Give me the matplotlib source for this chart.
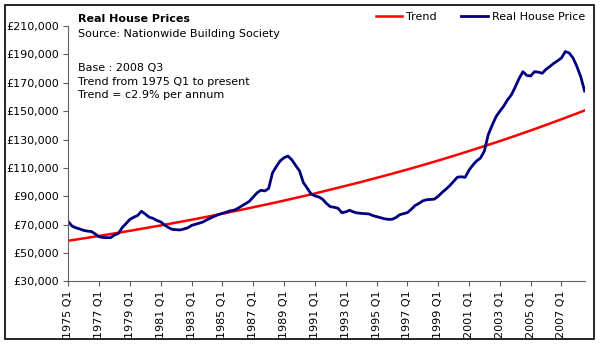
import numpy as np
import matplotlib
matplotlib.use('Agg')
import matplotlib.pyplot as plt
from matplotlib.patches import Rectangle
from matplotlib.ticker import FuncFormatter

# Real house price, quarterly from 1975 Q1 to 2008 Q3 (thousands of pounds)
price = [72.1, 69.0, 67.8, 67.0, 66.0, 65.5, 65.2, 63.5,
         61.5, 61.0, 60.9, 60.9, 62.8, 63.8, 68.0, 70.8,
         73.8, 75.3, 76.5, 79.5, 77.5, 75.3, 74.5, 73.0,
         72.0, 69.8, 68.0, 66.7, 66.5, 66.3, 67.0, 67.8,
         69.5, 70.3, 71.1, 72.0, 73.5, 74.8, 76.0, 77.2,
         78.0, 78.8, 79.8, 80.2, 81.5, 83.2, 84.8, 86.5,
         89.5, 92.5, 94.3, 93.8, 95.5, 106.5, 111.0, 115.0,
         117.2, 118.4, 115.8, 111.8, 108.0, 99.8, 95.8, 91.8,
         90.3, 89.6, 88.0, 85.0, 82.7, 82.3, 81.6, 78.5,
         79.0, 80.2, 79.0, 78.3, 78.0, 77.8, 77.6, 76.5,
         75.7, 75.0, 74.2, 73.8, 73.8, 75.0, 77.0, 77.8,
         78.5, 80.8, 83.5, 85.0, 86.8, 87.6, 87.8, 88.0,
         90.0, 92.7, 95.0, 97.5, 100.5, 103.5, 103.8, 103.4,
         108.4, 112.0, 115.0, 117.0, 122.0, 133.5, 140.0, 146.0,
         150.0, 153.5, 158.0, 161.5, 167.0, 173.0, 177.8, 175.2,
         174.8, 177.8, 177.5, 176.7, 179.5, 181.5, 183.7, 185.5,
         187.5, 192.0, 191.0, 187.5, 181.5, 174.3, 164.2]

# Trend line, read at Q1 of each year plus the last quarter
trend_q = [0, 4, 8, 12, 16, 20, 24, 28, 32, 36, 40, 44, 48, 52, 56, 60, 64,
           68, 72, 76, 80, 84, 88, 92, 96, 100, 104, 108, 112, 116, 120,
           124, 128, 132, 134]
trend = [58.7, 60.4, 62.1, 63.9, 65.7, 67.6, 69.5, 71.5, 73.5, 75.6, 77.8,
         80.0, 82.3, 84.6, 87.0, 89.5, 92.0, 94.7, 97.4, 100.1, 103.0,
         105.9, 108.9, 112.0, 115.2, 118.5, 121.9, 125.4, 128.9, 132.6,
         136.4, 140.3, 144.3, 148.4, 150.5]

years = list(range(1975, 2008, 2))
tick_labels = ['%d Q1' % y for y in years]
y_ticks = list(range(30000, 210001, 20000))

fig = plt.figure(figsize=(6, 3.44), dpi=100)
ax = fig.add_axes([0.1138, 0.1817, 0.8605, 0.7427])

q = np.arange(len(price))
ax.plot(np.array(trend_q), np.array(trend) * 1000, color='#FF0000', lw=1.8, label='Trend')
ax.plot(q, np.array(price) * 1000, color='#000080', lw=2.0, label='Real House Price')

ax.set_xlim(0, len(price) - 1)
ax.set_ylim(30000, 210000)
ax.set_yticks(y_ticks)
ax.yaxis.set_major_formatter(FuncFormatter(lambda v, p: '£{:,.0f}'.format(v)))
ax.set_xticks([(y - 1975) * 4 for y in years])
ax.set_xticklabels(tick_labels, rotation=90)

for s in ['top', 'right']:
    ax.spines[s].set_visible(False)
for s in ['left', 'bottom']:
    ax.spines[s].set_color('#606060')
ax.tick_params(direction='out', length=3.5, width=0.8, color='#606060',
               labelsize=8, pad=3)

# legend along the top
fig.legend(loc='center right', bbox_to_anchor=(0.975, 1 - 16.7 / 344), ncol=2,
           frameon=False, fontsize=8, handlelength=2.4, handletextpad=0.35,
           columnspacing=2.2, borderaxespad=0, borderpad=0)

# text block top left
fig.text(0.13, 1 - 19 / 344, 'Real House Prices', fontsize=8, weight='bold', va='center')
fig.text(0.13, 1 - 34 / 344, 'Source: Nationwide Building Society', fontsize=8, va='center')
fig.text(0.13, 1 - 68 / 344, 'Base : 2008 Q3', fontsize=8, va='center')
fig.text(0.13, 1 - 82 / 344, 'Trend from 1975 Q1 to present', fontsize=8, va='center')
fig.text(0.13, 1 - 95.5 / 344, 'Trend = c2.9% per annum', fontsize=8, va='center')

# outer frame
fig.patches.append(Rectangle((5 / 600, 5 / 344), 589 / 600, 334 / 344,
                             transform=fig.transFigure, fill=False,
                             edgecolor='black', lw=1.2))

fig.savefig('out.png', dpi=100)
